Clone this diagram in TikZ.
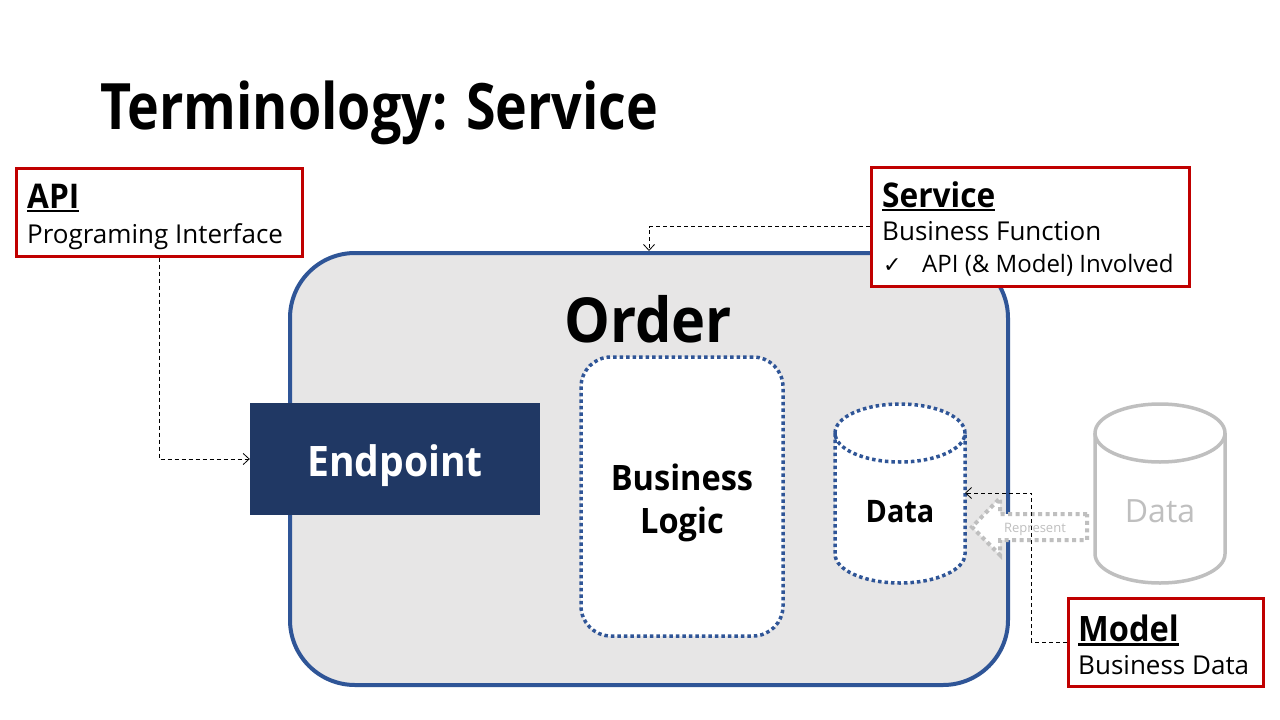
\documentclass[tikz,border=0pt]{standalone}
\usepackage{fontspec}
\setmainfont{Open Sans}[BoldFeatures={FakeStretch=0.93}]
\newfontfamily\titlef{Open Sans}[BoldFeatures={FakeStretch=0.84}]
\newfontfamily\symf{DejaVu Sans}
\usetikzlibrary{arrows.meta}
\definecolor{boxred}{HTML}{C00000}
\definecolor{ordblue}{HTML}{2F5597}
\definecolor{navy}{HTML}{203864}
\definecolor{lgray}{HTML}{E7E6E6}
\definecolor{mgray}{HTML}{BFBFBF}
\newcommand\ulin[1]{\setbox0\hbox{#1}\rlap{\rule[-0.13em]{\wd0}{0.075em}}\box0}
\tikzset{
  redbox/.style={draw=boxred, line width=3pt, fill=white, inner sep=0pt},
  dotblue/.style={draw=ordblue, line width=3.5pt, dash pattern=on 3.5pt off 3pt},
  conn/.style={draw=black, line width=0.8pt, dash pattern=on 4pt off 3pt, -{Straight Barb[length=6pt,width=11pt]}},
  txt/.style={inner sep=0pt, anchor=base west},
}
\begin{document}
\begin{tikzpicture}[x=1pt,y=-1pt]
\useasboundingbox[fill=white] (0,0) rectangle (1280,720);
% title
\node[txt] (title) at (100,129) {\titlef\fontsize{64}{70}\selectfont\bfseries Terminology: Service};
% order container
\node[draw=ordblue, fill=lgray, line width=4pt, rounded corners=65pt, minimum width=718pt, minimum height=432pt, inner sep=0pt] (order) at (649,469) {};
\node[inner sep=0pt, anchor=base] (ordertxt) at (648,342) {\fontsize{62}{66}\selectfont\bfseries Order};
% endpoint
\node[fill=navy, minimum width=290pt, minimum height=112pt, inner sep=0pt] (ep) at (395,459) {};
\node[inner sep=0pt, anchor=base, text=white] (eptxt) at (395,476) {\fontsize{42}{46}\selectfont\bfseries Endpoint};
% business logic
\node[dotblue, fill=white, rounded corners=30pt, minimum width=202pt, minimum height=279pt, inner sep=0pt] (bl) at (682,496.5) {};
\node[inner sep=0pt, anchor=base, font=\fontsize{35}{43}\selectfont\bfseries] (bltxt) at (682,490) {Business};
\node[inner sep=0pt, anchor=base, font=\fontsize{35}{43}\selectfont\bfseries] (bltxt2) at (682,533) {Logic};
% data cylinder
\path[fill=white] (835,433) -- (835,554) arc(180:360:65pt and 29pt) -- (965,433) arc(0:180:65pt and 29pt) -- cycle;
\draw[dotblue] (835,433) -- (835,554) arc(180:360:65pt and 29pt) -- (965,433);
\draw[dotblue] (900,433) ellipse [x radius=65pt, y radius=29pt];
\node[inner sep=0pt, anchor=base] (datatxt) at (900,522) {\fontsize{31}{36}\selectfont\bfseries Data};
\coordinate (dataR) at (965,493);
% gray cylinder
\draw[draw=mgray, line width=3.5pt, fill=white] (1095,433) -- (1095,554) arc(180:360:65pt and 29pt) -- (1225,433);
\draw[draw=mgray, line width=3.5pt, fill=white] (1160,433) ellipse [x radius=65pt, y radius=29pt];
\node[inner sep=0pt, anchor=base, text=mgray] (gdatatxt) at (1160,522) {\fontsize{32}{36}\selectfont Data};
% represent arrow
\draw[draw=mgray, line width=4pt, dash pattern=on 4pt off 3.5pt, fill=white]
  (1087,514) -- (1000,514) -- (1000,498) -- (972,527) -- (1000,555) -- (1000,540) -- (1087,540) -- cycle;
\node[inner sep=0pt, anchor=base, text=mgray] (reptxt) at (1035,532) {\fontsize{13}{15}\selectfont Represent};
% API box
\node[redbox, minimum width=286pt, minimum height=88pt] (api) at (159,212) {};
\node[txt] at (27,208) {\fontsize{34}{40}\selectfont\bfseries\ulin{API}};
\node[txt] at (27,243) {\fontsize{26}{30}\selectfont Programing Interface};
% Service box
\node[redbox, minimum width=318pt, minimum height=119pt] (svc) at (1030,226.5) {};
\node[txt] at (882,207) {\fontsize{34}{40}\selectfont\bfseries\ulin{Service}};
\node[txt] at (882,240) {\fontsize{26}{30}\selectfont Business Function};
\node[txt] at (883,272) {\fontsize{22}{26}\selectfont{\symf ✓}};
\node[txt] at (922,272) {\fontsize{24}{28}\selectfont API (\& Model) Involved};
% Model box
\node[redbox, minimum width=195pt, minimum height=88pt] (model) at (1165.5,642) {};
\node[txt] at (1078,641) {\fontsize{35}{40}\selectfont\bfseries\ulin{Model}};
\node[txt] at (1078,674) {\fontsize{26}{30}\selectfont Business Data};
% connectors
\draw[conn] (api.south) |- (ep.west);
\draw[conn] (svc.west) -| (order.north);
\draw[conn] (model.west) -- ++(-35,0) |- (dataR);
\end{tikzpicture}
\end{document}
